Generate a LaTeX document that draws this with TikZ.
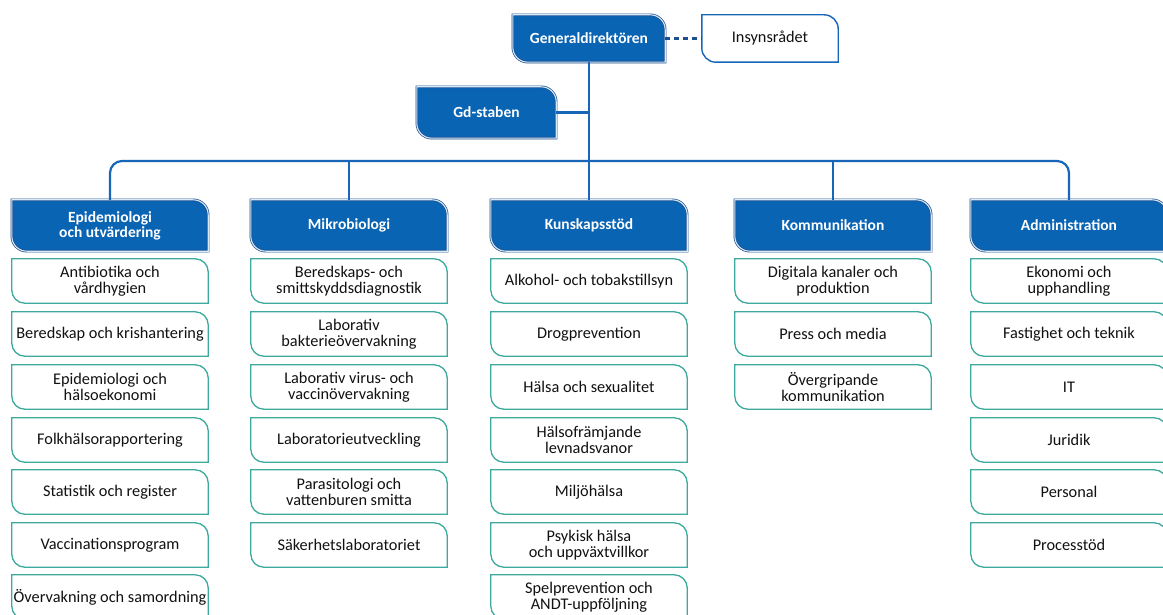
\documentclass[tikz,border=0pt]{standalone}
\usepackage{fontspec}
\setmainfont{Carlito}
\usetikzlibrary{calc}
\pgfdeclarelayer{bg}
\pgfsetlayers{bg,main}
\definecolor{hdblue}{HTML}{0A64B4}
\definecolor{hddark}{HTML}{1B4F8F}
\definecolor{hdlight}{HTML}{D9EAF7}
\definecolor{subteal}{HTML}{3DAA9D}
\definecolor{lineblue}{HTML}{1766B8}
\definecolor{txt}{HTML}{111111}
\tikzset{
  boxshape/.style n args={3}{append after command={\pgfextra{\let\bn\tikzlastnode
    \begin{pgfonlayer}{bg}
    \path[#1] (\bn.north west) -- ([xshift=-#2]\bn.north east)
      .. controls ([xshift=-#3]\bn.north east) and ([yshift=-#3]\bn.north east) .. ([yshift=-#2]\bn.north east)
      -- (\bn.south east) -- ([xshift=#2]\bn.south west)
      .. controls ([xshift=#3]\bn.south west) and ([yshift=#3]\bn.south west) .. ([yshift=#2]\bn.south west)
      -- cycle;
    \end{pgfonlayer}}}},
  hdr/.style={minimum width=196pt, minimum height=51pt, inner sep=0pt, align=center,
    text=white, font={\fontsize{15.5}{15}\selectfont\bfseries},
    boxshape={fill=hdblue, draw=hddark, double=hdlight, double distance=1.1pt, line width=0.7pt}{15pt}{6.7pt}},
  sub/.style={minimum width=196pt, minimum height=44pt, inner sep=0pt, align=center,
    text=txt, font={\fontsize{16.3}{15.5}\selectfont},
    boxshape={fill=white, draw=subteal, line width=1.3pt}{13pt}{5.8pt}},
  plain/.style={minimum height=47pt, inner sep=0pt, align=center,
    text=txt, font={\fontsize{16.3}{15.5}\selectfont},
    boxshape={fill=white, draw=lineblue, line width=1.4pt}{14pt}{6.3pt}},
  conn/.style={draw=lineblue, line width=2.2pt},
}
\begin{document}
\begin{tikzpicture}[x=1pt, y=-1pt]
\clip (0,0) rectangle (1163,615);
\begin{pgfonlayer}{bg}
\fill[white] (0,0) rectangle (1163,615);
\end{pgfonlayer}
% top
\node[hdr, minimum width=152pt, minimum height=47pt] (gd) at (589,38.5) {Generaldirektören};
\node[plain, minimum width=136pt] (ins) at (770,38.5) {Insynsrådet};
\node[hdr, minimum width=139pt] (gds) at (486.5,112.5) {Gd-staben};
% headers
\node[hdr] (h1) at (110,225.5) {Epidemiologi\\och utvärdering};
\node[hdr] (h2) at (349,225.5) {Mikrobiologi};
\node[hdr] (h3) at (589,225.5) {Kunskapsstöd};
\node[hdr] (h4) at (833,225.5) {Kommunikation};
\node[hdr] (h5) at (1069,225.5) {Administration};
% column 1
\node[sub] (a1) at (110,281) {Antibiotika och\\vårdhygien};
\node[sub] (a2) at (110,334) {Beredskap och krishantering};
\node[sub] (a3) at (110,387) {Epidemiologi och\\hälsoekonomi};
\node[sub] (a4) at (110,440) {Folkhälsorapportering};
\node[sub] (a5) at (110,492) {Statistik och register};
\node[sub] (a6) at (110,545) {Vaccinationsprogram};
\node[sub] (a7) at (110,597) {Övervakning och samordning};
% column 2
\node[sub] (b1) at (349,281) {Beredskaps- och\\smittskyddsdiagnostik};
\node[sub] (b2) at (349,334) {Laborativ\\bakterieövervakning};
\node[sub] (b3) at (349,387) {Laborativ virus- och\\vaccinövervakning};
\node[sub] (b4) at (349,440) {Laboratorieutveckling};
\node[sub] (b5) at (349,492) {Parasitologi och\\vattenburen smitta};
\node[sub] (b6) at (349,545) {Säkerhetslaboratoriet};
% column 3
\node[sub] (c1) at (589,281) {Alkohol- och tobakstillsyn};
\node[sub] (c2) at (589,334) {Drogprevention};
\node[sub] (c3) at (589,387) {Hälsa och sexualitet};
\node[sub] (c4) at (589,440) {Hälsofrämjande\\levnadsvanor};
\node[sub] (c5) at (589,492) {Miljöhälsa};
\node[sub] (c6) at (589,545) {Psykisk hälsa\\och uppväxtvillkor};
\node[sub] (c7) at (589,597) {Spelprevention och\\ANDT-uppföljning};
% column 4
\node[sub] (d1) at (833,281) {Digitala kanaler och\\produktion};
\node[sub] (d2) at (833,334) {Press och media};
\node[sub] (d3) at (833,387) {Övergripande\\kommunikation};
% column 5
\node[sub] (e1) at (1069,281) {Ekonomi och\\upphandling};
\node[sub] (e2) at (1069,334) {Fastighet och teknik};
\node[sub] (e3) at (1069,387) {IT};
\node[sub] (e4) at (1069,440) {Juridik};
\node[sub] (e5) at (1069,492) {Personal};
\node[sub] (e6) at (1069,545) {Processtöd};
% connectors
\coordinate (bus) at (589,161);
\draw[conn, rounded corners=12pt] (h1.north) |- (bus) -| (h5.north);
\draw[conn] (gd.south) -- (bus);
\draw[conn] (bus) -- (h3.north);
\draw[conn] (h2.north) -- (h2.north |- bus);
\draw[conn] (h4.north) -- (h4.north |- bus);
\draw[conn] (gds.east) -- (gds.east -| gd.south);
\draw[conn, draw=hddark, line width=2.4pt, dash pattern=on 5pt off 4pt] (gd.east) -- (ins.west);
\end{tikzpicture}
\end{document}
